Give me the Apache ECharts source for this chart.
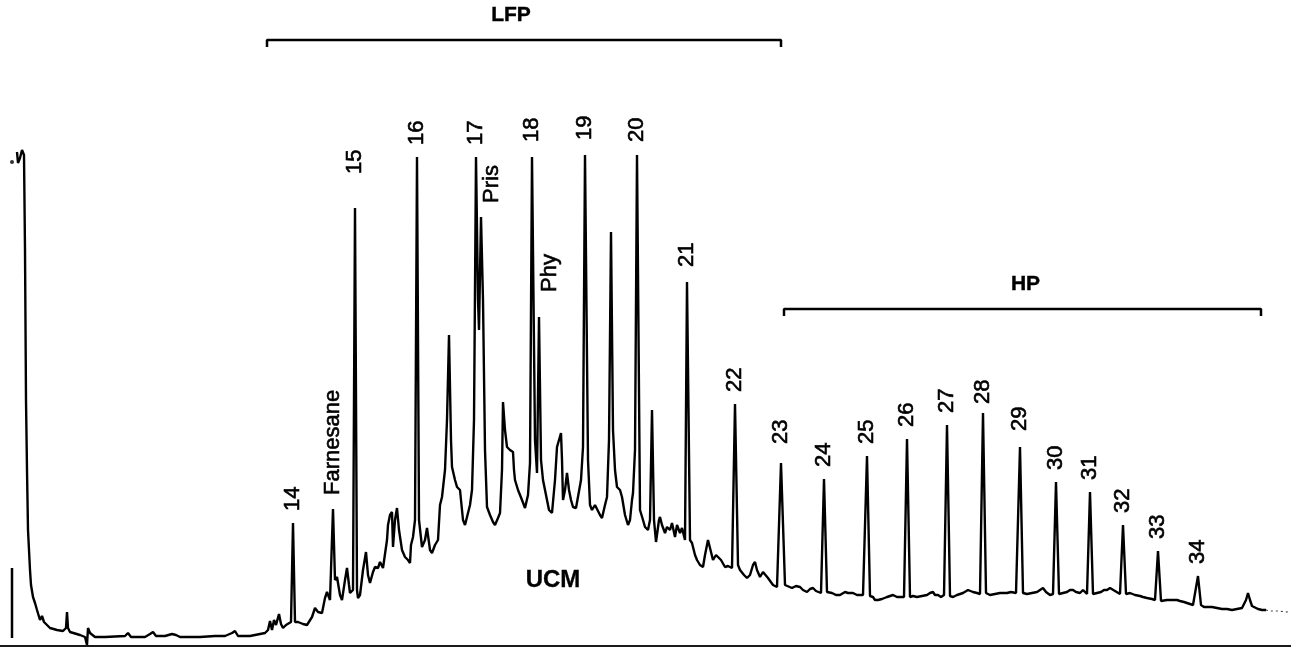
<!DOCTYPE html>
<html>
<head>
<meta charset="utf-8">
<script src="https://cdn.jsdelivr.net/npm/echarts@6/dist/echarts.min.js"></script>
<style>
  html, body { margin: 0; padding: 0; background: #ffffff; }
  #chart { width: 1291px; height: 648px; }
</style>
</head>
<body>
<div id="chart"></div>
<script>
// Gas chromatogram of a saturated hydrocarbon fraction.
// x: retention (scan units), y: detector response (arbitrary units).

// Trace between the labelled peak apexes: solvent front, baseline, UCM hump and unresolved peaks.
const traceBetweenPeaks = [
  [17,494],[18,483],[20,488],[22,496],[24,491],[25,396],[26,246],[27,176],[28,116],[30,76],[31,61],[33,49],
  [35,43],[37,36],[39,34],[40,26],[42,30],[44,24],[47,21],[50,18],[57,16],[63,15],[66,18],[67,34],[68,18],
  [70,14],[80,11],[85,9],[87,1],[88,18],[90,13],[95,9],[105,9],[125,10],[128,13],[131,9],[145,9],[150,12],
  [153,14],[156,10],[165,10],[172,12],[176,11],[180,9],[200,9],[215,10],[225,10],[232,13],[235,15],[238,10],
  [250,10],[260,12],[265,13],[268,16],[270,25],[272,16],[274,26],[276,21],[279,32],[281,22],[283,18],[286,21],
  [288,23],[291,24],
  [295,24],[298,24],[303,22],[307,21],[312,29],[315,38],[318,34],[322,33],[325,48],[327,54],[330,46],[331,48],
  [335,66],[337,69],[340,51],[342,46],[345,66],[347,78],[349,61],[350,53],[353,56],
  [357,56],[358,48],[360,51],[363,76],[366,94],[368,71],[370,63],[373,74],[375,79],[378,78],[380,84],[383,78],
  [385,76],[387,106],[388,121],[390,131],[392,134],[393,99],[395,126],[397,138],[399,116],[402,96],[405,89],
  [408,86],[410,83],[411,101],[413,109],[415,126],
  [419,126],[422,99],[425,106],[427,118],[430,96],[432,93],[435,101],[438,106],[440,141],[442,149],[445,176],
  [447,226],[449,311],[451,206],[452,179],[455,166],[457,159],[460,156],[462,154],[463,126],[465,121],[467,123],
  [470,141],[472,156],[474,226],
  [478,346],[479,316],
  [483,346],[485,196],[487,139],[490,131],[493,124],[495,121],[498,128],[500,133],[502,176],[503,244],[505,216],
  [507,199],[510,196],[513,194],[514,176],[515,166],[518,156],[522,146],[525,138],[528,151],[530,183],
  [535,206],[537,173],
  [541,186],[543,166],[546,151],[549,136],[552,133],[555,166],[557,199],[559,206],[561,213],[562,186],[563,146],
  [565,156],[567,173],[569,156],[571,146],[573,139],[576,138],[578,136],[581,166],[583,199],
  [588,186],[590,141],[592,136],[595,141],[597,143],[600,131],[602,128],[605,141],[607,149],[609,206],[611,414],
  [613,216],[615,176],[617,159],[620,156],[622,149],[625,131],[628,121],[630,126],[632,146],[633,153],[635,196],
  [640,136],[643,126],[645,119],[648,116],[650,126],[652,236],[654,126],[656,104],[657,106],[659,126],[660,129],
  [662,121],[665,113],[667,119],[670,116],[672,123],[675,109],[677,121],[680,113],[682,118],[685,106],
  [690,106],[692,103],[695,91],[697,86],[700,81],[703,79],[705,91],[708,106],[710,98],[713,86],[716,91],[718,93],
  [721,86],[725,79],[728,80],[732,78],
  [738,81],[740,76],[744,71],[747,68],[750,71],[753,81],[755,84],[757,76],[760,69],[763,74],[765,73],[768,68],
  [773,61],[777,59],
  [785,61],[787,59],[792,58],[796,60],[800,59],[803,56],[807,54],[810,57],[813,58],[816,55],[818,53],[821,53],
  [827,54],[832,53],[836,51],[840,51],[845,54],[848,53],[853,53],[857,51],[860,51],[863,51],
  [870,50],[873,49],[875,46],[878,46],[882,47],[887,49],[890,50],[893,51],[897,49],[900,49],[904,49],
  [910,49],[913,50],[917,49],[922,50],[927,51],[930,53],[933,54],[935,51],[938,51],[941,49],[944,51],
  [950,50],[953,49],[957,51],[963,53],[968,56],[970,56],[973,54],[977,53],[980,52],
  [986,53],[990,51],[995,52],[1000,53],[1004,53],[1007,53],[1011,54],[1016,53],
  [1023,53],[1027,52],[1032,53],[1037,54],[1040,56],[1043,58],[1046,54],[1050,51],[1053,52],
  [1059,52],[1063,53],[1067,54],[1070,56],[1073,56],[1076,54],[1080,53],[1083,56],[1087,52],
  [1093,52],[1097,53],[1101,54],[1104,56],[1107,56],[1110,58],[1112,58],[1115,55],[1117,53],[1120,52],
  [1126,52],[1130,53],[1135,51],[1140,50],[1143,49],[1147,48],[1152,47],[1155,46],
  [1161,45],[1163,46],[1167,46],[1172,46],[1177,46],[1180,45],[1184,44],[1187,43],[1190,42],[1193,41],[1195,42],
  [1201,41],[1204,39],[1207,39],[1212,39],[1217,38],[1222,37],[1227,37],[1232,36],[1237,37],[1242,38],[1244,40],
  [1246,46],[1248,53],[1250,46],[1252,40],[1254,38],[1258,37],[1262,36],[1266,36]
];

// Faint end of the run.
const traceTail = [[1266,36],[1270,35],[1278,35],[1288,34]];

// Labelled peaks: n-alkane carbon numbers and isoprenoids.
const peakNames = ['14','Farnesane','15','16','17','Pris','18','Phy','19','20','21','22','23','24','25',
                   '26','27','28','29','30','31','32','33','34'];
const peakRetention = [293,333,355,417,476,481,532,539,585,637,687,735,781,824,867,
                       907,947,983,1020,1056,1090,1123,1158,1198];
const peakResponse = [123,137,438,489,489,429,489,329,491,491,364,242,183,167,190,
                      207,221,233,199,164,154,121,95,70];

// Compound-class ranges shown as brackets.
const rangeNames = ['LFP','HP'];
const rangeStart = [267,784];
const rangeEnd = [781,1261];
const rangeLevel = [606,337];

// Unresolved complex mixture annotation.
const humpLabel = { name: 'UCM', retention: 553, response: 66 };

// ---- styling ----
const INK = '#000000';
const FONT = "'Liberation Sans', Arial, sans-serif";
// gap above each apex (px) and sideways shift for the isoprenoid labels
const labelGap = { '15': 34, '18': 15, '19': 15, '20': 13, '21': 15, '23': 19, '29': 16, '28': 9,
                   'Farnesane': 14, 'Pris': 14, 'Phy': 25 };
const labelShift = { 'Pris': 11, 'Phy': 11 };
const bracketTitleShift = { 'LFP': -13, 'HP': 3 };

const apexPoints = peakRetention.map((x, i) => [x, peakResponse[i]]);
const trace = traceBetweenPeaks.concat(apexPoints).sort((a, b) => a[0] - b[0]);

const peakLabelData = peakNames.map((name, i) => {
  const gap = labelGap[name] !== undefined ? labelGap[name] : 12;
  const dx = labelShift[name] || 0;
  return {
    name: name,
    value: [peakRetention[i], peakResponse[i]],
    label: { position: [0.5 + dx, 0.5 - gap] }
  };
});

const bracketSeries = rangeNames.map((name, i) => ({
  type: 'line',
  name: name,
  data: [[rangeStart[i], rangeLevel[i] - 7], [rangeStart[i], rangeLevel[i]],
         [rangeEnd[i], rangeLevel[i]], [rangeEnd[i], rangeLevel[i] - 7]],
  showSymbol: false,
  lineStyle: { color: INK, width: 2.5 },
  silent: true,
  z: 3
}));

const bracketLabels = {
  type: 'scatter',
  symbolSize: 1,
  itemStyle: { color: 'transparent' },
  data: rangeNames.map((name, i) => ({
    name: name,
    value: [(rangeStart[i] + rangeEnd[i]) / 2, rangeLevel[i]],
    label: { offset: [bracketTitleShift[name] || 0, 0] }
  })),
  label: {
    show: true,
    position: 'top',
    distance: 14,
    formatter: p => p.name,
    color: INK,
    opacity: 1,
    fontFamily: FONT,
    fontWeight: 'bold',
    fontSize: 21,
    textBorderColor: INK,
    textBorderWidth: 0.4
  },
  silent: true,
  z: 5
};

const chart = echarts.init(document.getElementById('chart'), null, { renderer: 'canvas' });

chart.setOption({
  animation: false,
  backgroundColor: '#ffffff',
  grid: { left: 0, right: 0, top: 0, bottom: 2, containLabel: false },
  xAxis: {
    type: 'value', min: 0, max: 1291,
    axisLine: { show: true, onZero: false, lineStyle: { color: '#1a1a1a', width: 2 } },
    axisTick: { show: false }, axisLabel: { show: false }, splitLine: { show: false }
  },
  yAxis: {
    type: 'value', min: 0, max: 646,
    axisLine: { show: false }, axisTick: { show: false }, axisLabel: { show: false }, splitLine: { show: false }
  },
  series: [
    {
      type: 'line',
      name: 'signal',
      data: trace,
      showSymbol: false,
      lineStyle: { color: INK, width: 2.4 },
      silent: true,
      z: 4
    },
    {
      type: 'line',
      name: 'signal end',
      data: traceTail,
      showSymbol: false,
      lineStyle: { color: '#444444', width: 1.2, type: [2, 3] },
      silent: true,
      z: 4
    },
    {
      // response scale marker at the start of the run
      type: 'line',
      name: 'scale marker',
      data: [[12, 8], [12, 78]],
      showSymbol: false,
      lineStyle: { color: INK, width: 2.5 },
      silent: true,
      z: 4
    },
    {
      type: 'scatter',
      name: 'injection mark',
      data: [[12, 484]],
      symbolSize: 4,
      itemStyle: { color: INK },
      silent: true
    },
    {
      type: 'scatter',
      name: 'peak labels',
      data: peakLabelData,
      symbolSize: 1,
      itemStyle: { color: 'transparent' },
      label: {
        show: true,
        rotate: 90,
        align: 'left',
        verticalAlign: 'middle',
        formatter: p => p.name,
        color: INK,
        opacity: 1,
        fontFamily: FONT,
        fontSize: 22,
        textBorderColor: INK,
        textBorderWidth: 0.6
      },
      silent: true,
      z: 5
    },
    ...bracketSeries,
    bracketLabels,
    {
      type: 'scatter',
      name: 'hump label',
      data: [{ name: humpLabel.name, value: [humpLabel.retention, humpLabel.response] }],
      symbolSize: 1,
      itemStyle: { color: 'transparent' },
      label: {
        show: true,
        position: 'inside',
        formatter: p => p.name,
        color: INK,
        opacity: 1,
        fontFamily: FONT,
        fontWeight: 'bold',
        fontSize: 24,
        textBorderColor: INK,
        textBorderWidth: 0.3
      },
      silent: true,
      z: 5
    }
  ]
});
</script>
</body>
</html>
